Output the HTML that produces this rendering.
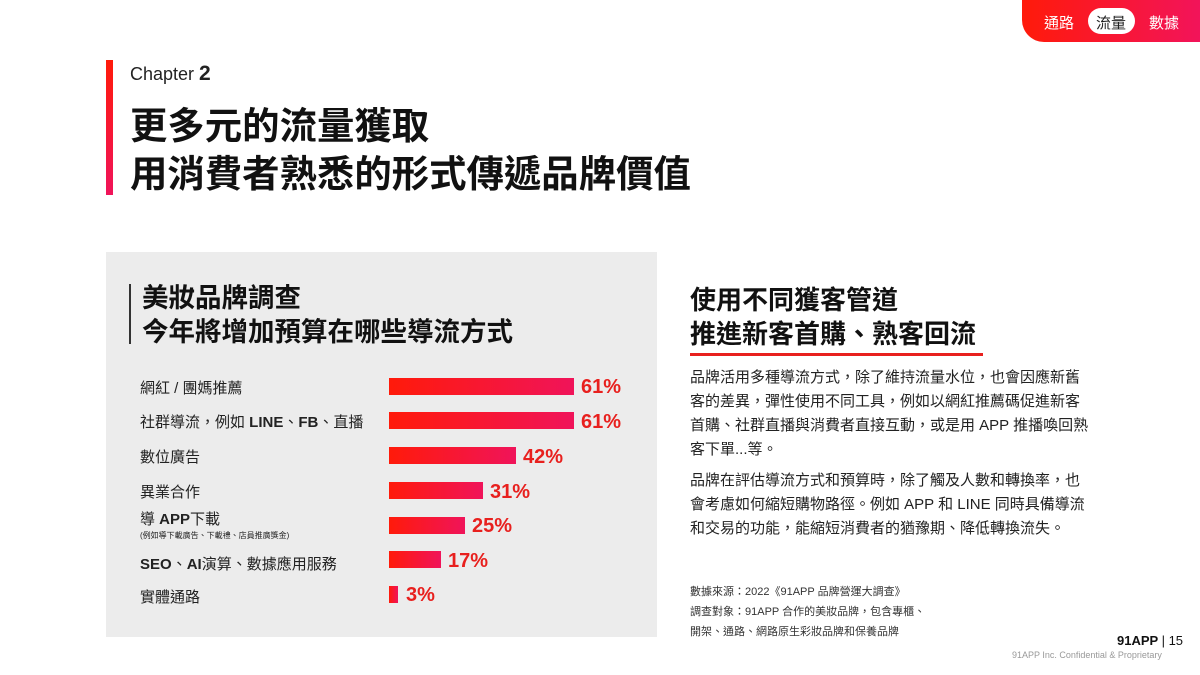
<!DOCTYPE html>
<html><head><meta charset="utf-8"><style>
*{margin:0;padding:0;box-sizing:border-box}
body{width:1200px;height:675px;background:#fff;position:relative;overflow:hidden;font-family:"Liberation Sans","Noto Sans CJK TC",sans-serif;color:#111}
.a{position:absolute;white-space:nowrap}
.bar{position:absolute;left:389px;height:17px;background:linear-gradient(90deg,#ff1a0a,#f0145a)}
.pct{position:absolute;color:#e8201e;font-weight:bold;font-size:20px}
.lab{position:absolute;left:140px;font-size:15px;color:#222}
.p{font-size:15px;line-height:24px;color:#222}
</style></head><body>
<div class="a" style="left:1022px;top:0;width:178px;height:42px;background:linear-gradient(90deg,#ff1a0a,#f2145a);border-bottom-left-radius:22px"></div>
<div class="a" style="left:1044px;top:12px;color:#fff;font-size:15px">通路</div>
<div class="a" style="left:1088px;top:8px;width:47px;height:26px;background:#fff;border-radius:13px"></div>
<div class="a" style="left:1096px;top:12px;color:#222;font-size:15px">流量</div>
<div class="a" style="left:1149px;top:12px;color:#fff;font-size:15px">數據</div>
<div class="a" style="left:106px;top:60px;width:7px;height:135px;background:linear-gradient(180deg,#ff1a0a,#f0145a)"></div>
<div class="a" style="left:130px;top:62px;font-size:18px;color:#222">Chapter <b style="font-size:21px">2</b></div>
<div class="a" style="left:130px;top:102px;font-size:37.4px;font-weight:bold;line-height:48px">更多元的流量獲取<br>用消費者熟悉的形式傳遞品牌價值</div>
<div class="a" style="left:106px;top:252px;width:551px;height:385px;background:#ececec"></div>
<div class="a" style="left:129px;top:284px;width:2px;height:60px;background:#333"></div>
<div class="a" style="left:142px;top:281px;font-size:26.5px;font-weight:bold;line-height:34px;color:#111">美妝品牌調查<br>今年將增加預算在哪些導流方式</div>
<div class="lab" style="top:377px">網紅 / 團媽推薦</div>
<div class="lab" style="top:411px">社群導流，例如 <b>LINE</b>、<b>FB</b>、直播</div>
<div class="lab" style="top:446px">數位廣告</div>
<div class="lab" style="top:481px">異業合作</div>
<div class="lab" style="top:508px">導 <b>APP</b>下載</div>
<div class="lab" style="top:530px;font-size:8px">(例如導下載廣告、下載禮、店員推廣獎金)</div>
<div class="lab" style="top:553px"><b>SEO</b>、<b>AI</b>演算、數據應用服務</div>
<div class="lab" style="top:586px">實體通路</div>
<div class="bar" style="top:378px;width:185px"></div><div class="pct" style="left:581px;top:376px">61%</div>
<div class="bar" style="top:412px;width:185px"></div><div class="pct" style="left:581px;top:411px">61%</div>
<div class="bar" style="top:447px;width:127px"></div><div class="pct" style="left:523px;top:446px">42%</div>
<div class="bar" style="top:482px;width:94px"></div><div class="pct" style="left:490px;top:481px">31%</div>
<div class="bar" style="top:517px;width:76px"></div><div class="pct" style="left:472px;top:515px">25%</div>
<div class="bar" style="top:551px;width:52px"></div><div class="pct" style="left:448px;top:550px">17%</div>
<div class="bar" style="top:586px;width:9px"></div><div class="pct" style="left:406px;top:584px">3%</div>
<div class="a" style="left:690px;top:283px;font-size:26px;font-weight:bold;line-height:34px">使用不同獲客管道<br>推進新客首購、熟客回流</div>
<div class="a" style="left:690px;top:353px;width:293px;height:3px;background:#e8201e"></div>
<div class="a p" style="left:690px;top:366px">品牌活用多種導流方式，除了維持流量水位，也會因應新舊<br>客的差異，彈性使用不同工具，例如以網紅推薦碼促進新客<br>首購、社群直播與消費者直接互動，或是用 APP 推播喚回熟<br>客下單...等。</div>
<div class="a p" style="left:690px;top:469px">品牌在評估導流方式和預算時，除了觸及人數和轉換率，也<br>會考慮如何縮短購物路徑。例如 APP 和 LINE 同時具備導流<br>和交易的功能，能縮短消費者的猶豫期、降低轉換流失。</div>
<div class="a" style="left:690px;top:582px;font-size:11px;line-height:20px;color:#333">數據來源：2022《91APP 品牌營運大調查》<br>調查對象：91APP 合作的美妝品牌，包含專櫃、<br>開架、通路、網路原生彩妝品牌和保養品牌</div>
<div class="a" style="left:1117px;top:633px;font-size:13px;font-weight:bold">91APP <span style="font-weight:normal">| 15</span></div>
<div class="a" style="left:1012px;top:650px;font-size:9px;color:#999">91APP Inc. Confidential &amp; Proprietary</div>
</body></html>
